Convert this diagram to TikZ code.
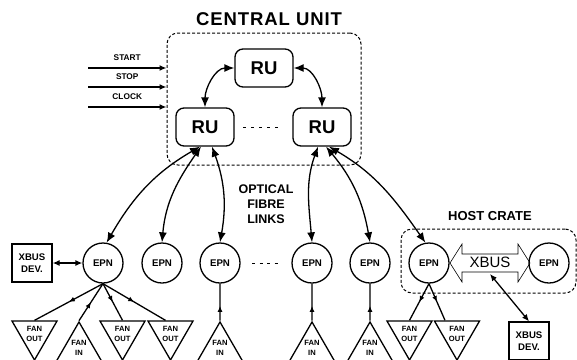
\documentclass[tikz,border=0pt]{standalone}
\usepackage{fontspec}
\setmainfont{Liberation Sans}
\usetikzlibrary{arrows.meta,shapes.geometric,decorations.markings}
\tikzset{>={Latex[length=10pt,width=8pt]}}
\tikzset{
  ru/.style={draw,rounded corners=8pt,minimum width=58pt,minimum height=38pt,font=\bfseries\fontsize{18.5}{20}\selectfont},
  epn/.style={draw,circle,minimum size=40pt,inner sep=0pt,font=\bfseries\fontsize{9.7}{11}\selectfont},
  dev/.style={draw,minimum width=40pt,minimum height=38pt,inner sep=0pt,align=center,font=\bfseries\fontsize{9.6}{12.5}\selectfont},
  fanout/.style={draw,regular polygon,regular polygon sides=3,shape border rotate=180,minimum size=52pt,inner sep=0pt,align=center,font=\bfseries\fontsize{7.6}{9.5}\selectfont},
  fanin/.style={fanout,shape border rotate=0},
  crate/.style={draw,dash pattern=on 3pt off 2pt,rounded corners=11pt,line width=1pt},
  lbl/.style={font=\bfseries\fontsize{8.3}{10}\selectfont},
  link/.style={<->},
  small/.style={>={Latex[length=7pt,width=6pt]}},
  midarrow/.style={postaction={decorate},decoration={markings,mark=at position #1 with {\arrow{Latex[length=6pt,width=5pt]}}}},
  midarrow/.default=0.5
}
\begin{document}
\begin{tikzpicture}[x=1pt,y=1pt,line width=1.3pt]
\useasboundingbox (0,0) rectangle (577,-359);
% central unit
\node[font={\bfseries\fontsize{18.5}{20}\selectfont\addfontfeature{LetterSpace=5}}] (cutitle) at (269,-19) {CENTRAL UNIT};
\node[crate,minimum width=194pt,minimum height=132pt] (cu) at (264,-99) {};
\node[ru] (rut) at (264,-68) {RU};
\node[ru] (rul) at (205,-127) {RU};
\node[ru] (rur) at (322,-127) {RU};
\draw[<->] (rut.west) to[out=180,in=90] (rul.north);
\draw[<->] (rut.east) to[out=0,in=90] (rur.north);
\coordinate (rudotl) at (243,-127);
\coordinate (rudotr) at (278,-127);
\draw[dash pattern=on 3pt off 5pt,line width=1pt] (rudotl) -- (rudotr);

% inputs
\coordinate (start) at (88,-68);
\coordinate (stop) at (88,-87);
\coordinate (clock) at (88,-107);
\draw[->,small] (start) -- (start -| cu.west) node[midway,above=3.5pt,lbl] (startlbl) {START};
\draw[->,small] (stop) -- (stop -| cu.west) node[midway,above=3.5pt,lbl] (stoplbl) {STOP};
\draw[->,small] (clock) -- (clock -| cu.west) node[midway,above=3.5pt,lbl] (clocklbl) {CLOCK};

% event processing nodes
\node[epn] (epn1) at (103,-263) {EPN};
\node[epn] (epn2) at (162,-263) {EPN};
\node[epn] (epn3) at (220,-263) {EPN};
\node[epn] (epn4) at (312,-263) {EPN};
\node[epn] (epn5) at (370,-263) {EPN};
\node[epn] (epn6) at (429,-263) {EPN};
\node[epn] (epn7) at (549,-263) {EPN};
\coordinate (epndotl) at (252,-263);
\coordinate (epndotr) at (278,-263);
\draw[dash pattern=on 3pt off 4.5pt,line width=1pt] (epndotl) -- (epndotr);

% optical fibre links
\node[font=\bfseries\fontsize{12.5}{15}\selectfont,align=center] (optlbl) at (266,-204) {OPTICAL\\FIBRE\\LINKS};
\draw[link] ([xshift=-5pt]rul.south) to[out=210,in=60] (epn1.80);
\draw[link] ([xshift=-4pt]rul.south) to[out=235,in=85] (epn2.north);
\draw[link] ([xshift=7pt]rul.south) to[out=-70,in=80] (epn3.north);
\draw[link] ([xshift=-4pt]rur.south) to[out=250,in=95] (epn4.north);
\draw[link] ([xshift=4pt]rur.south) to[out=-50,in=100] (epn5.north);
\draw[link] ([xshift=7pt]rur.south) to[out=-30,in=125] (epn6.100);

% host crate
\node[crate,minimum width=175pt,minimum height=64pt] (host) at (488.5,-261) {};
\node[font=\bfseries\fontsize{13}{15}\selectfont] (hostlbl) at (490,-216) {HOST CRATE};
\draw[line width=0.6pt] (450,-263) -- (462,-244) -- (462,-254) -- (518,-254) -- (518,-244)
  -- (530,-263) -- (518,-282) -- (518,-272) -- (462,-272) -- (462,-282) -- cycle;
\node[font=\fontsize{15}{17}\selectfont] (xbus) at (490,-262) {XBUS};
\coordinate (xbusport) at (490,-274);

% xbus devices
\node[dev] (dev1) at (32,-263) {XBUS\\DEV.};
\node[dev] (dev2) at (529,-341) {XBUS\\DEV.};
\draw[<->,small] (dev1) -- (epn1);
\draw[<->,small] (xbusport) -- (dev2.north);

% fan in / fan out
\node[fanout] (fo1) at (34.5,-334) {FAN\\OUT};
\node[fanin] (fi1) at (79,-348) {FAN\\IN};
\node[fanout] (fo2) at (122.5,-334) {FAN\\OUT};
\node[fanout] (fo3) at (170.5,-334) {FAN\\OUT};
\node[fanin] (fi2) at (220,-348) {FAN\\IN};
\node[fanin] (fi3) at (312,-348) {FAN\\IN};
\node[fanin] (fi4) at (370,-348) {FAN\\IN};
\node[fanout] (fo4) at (409.5,-334) {FAN\\OUT};
\node[fanout] (fo5) at (457,-334) {FAN\\OUT};
\draw[midarrow] (epn1.south) -- (fo1.north);
\draw[midarrow] (fi1.north) -- (epn1.south);
\draw[midarrow] (epn1.south) -- (fo2.north);
\draw[midarrow] (epn1.south) -- ([xshift=-5pt]fo3.north);
\draw[midarrow=0.4] (fi2.north) -- (epn3.south);
\draw[midarrow=0.4] (fi3.north) -- (epn4.south);
\draw[midarrow=0.4] (fi4.north) -- (epn5.south);
\draw[midarrow] (epn6.south) -- (fo4.north);
\draw[midarrow] (epn6.south) -- ([xshift=-12pt]fo5.north);
\end{tikzpicture}
\end{document}
